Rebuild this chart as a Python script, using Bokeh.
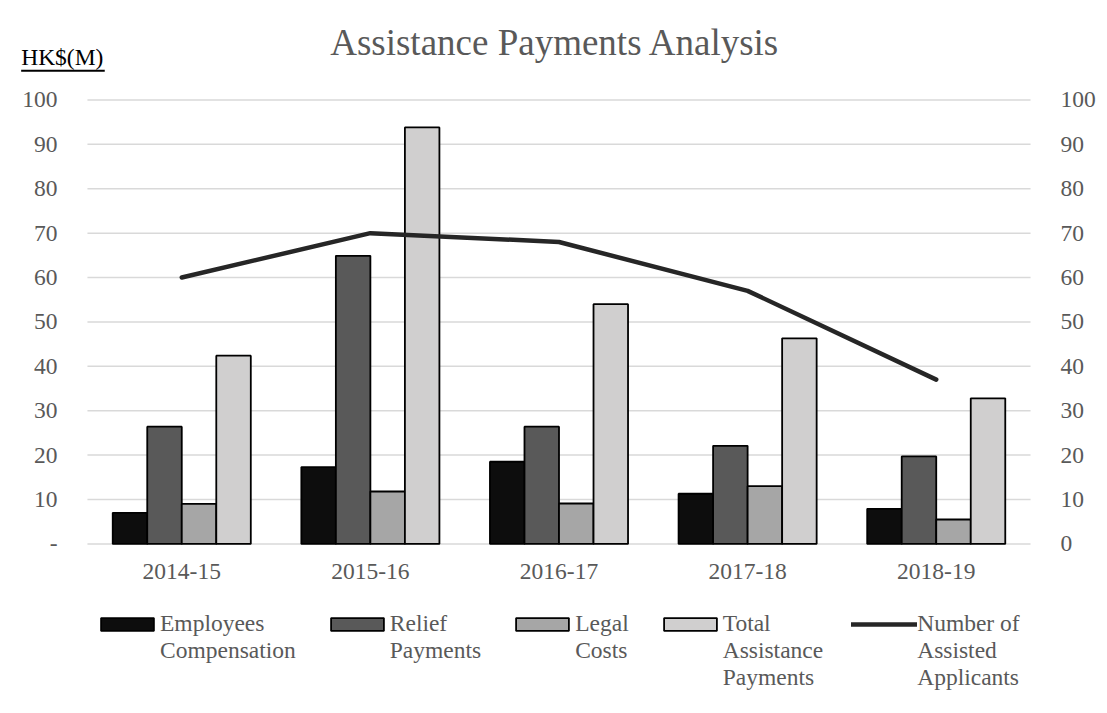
from bokeh.plotting import figure
from bokeh.models import (ColumnDataSource, FactorRange, Range1d, LinearAxis, Legend,
                          LegendItem, Label, Arrow, FixedTicker)
from bokeh.transform import dodge
from bokeh.embed import file_html
from bokeh.resources import INLINE

years = ["2014-15", "2015-16", "2016-17", "2017-18", "2018-19"]
employees_comp = [7.0, 17.3, 18.5, 11.3, 7.9]
relief_payments = [26.4, 64.9, 26.4, 22.1, 19.7]
legal_costs = [9.0, 11.8, 9.1, 13.0, 5.5]
total_assistance = [42.4, 93.8, 54.0, 46.3, 32.8]
assisted_applicants = [60, 70, 68, 57, 37]
y_ticks = [0, 10, 20, 30, 40, 50, 60, 70, 80, 90, 100]

FONT = "Liberation Serif"
GREY = "#595959"
FS = "23.5px"

src = ColumnDataSource(dict(years=years, ec=employees_comp, rp=relief_payments,
                            lc=legal_costs, ta=total_assistance, na=assisted_applicants))

# the frame covers the whole canvas so that titles and legend are not clipped
p = figure(x_range=FactorRange(*years, range_padding=0.408, range_padding_units="absolute"),
           y_range=Range1d(-38.2, 122.4),
           frame_width=1097, frame_height=713,
           min_border_left=10, min_border_right=0, min_border_top=0, min_border_bottom=0,
           output_backend="svg", toolbar_location=None, outline_line_color=None)
p.extra_y_ranges = {"right": Range1d(-38.2, 122.4)}

p.xgrid.visible = False
p.ygrid.visible = False
grid_src = ColumnDataSource(dict(y=y_ticks, x0=[0] * len(y_ticks), x1=[len(years)] * len(y_ticks)))
p.segment(x0="x0", x1="x1", y0="y", y1="y", source=grid_src, line_color="#d9d9d9",
          line_width=1.5, level="underlay")

bw = 0.183
specs = [("ec", -1.5, "#0d0d0d"), ("rp", -0.5, "#595959"), ("lc", 0.5, "#a6a6a6"), ("ta", 1.5, "#d0cfcf")]
rends = []
for col, k, color in specs:
    r = p.vbar(x=dodge("years", k * bw, range=p.x_range), top=col, width=bw, source=src,
               fill_color=color, line_color="#000000", line_width=1.8)
    rends.append(r)

ln = p.line(x="years", y="na", source=src, y_range_name="right", line_color="#262626",
            line_width=4.5, line_cap="round", line_join="round")

# axes
la = p.yaxis[0]
la.ticker = FixedTicker(ticks=y_ticks)
la.major_label_overrides = {0: "-"}
la.fixed_location = 0
ra = LinearAxis(y_range_name="right", ticker=FixedTicker(ticks=y_ticks), fixed_location=len(years))
p.add_layout(ra, "right")
xa = p.xaxis[0]
xa.fixed_location = 0
for ax in [la, ra, xa]:
    ax.axis_line_color = None
    ax.major_tick_line_color = None
    ax.minor_tick_line_color = None
    ax.major_label_text_font = FONT
    ax.major_label_text_font_size = FS
    ax.major_label_text_color = GREY
la.major_label_standoff = 24
ra.major_label_standoff = 24
xa.major_label_standoff = 14

# title & unit label
p.add_layout(Label(x=2.48, y=112.9, text="Assistance Payments Analysis", text_align="center",
                   text_baseline="alphabetic", text_font=FONT, text_font_size="37px",
                   text_color=GREY))
p.add_layout(Label(x=-0.3515, y=109.7, text="HK$(M)", text_align="left", text_baseline="alphabetic",
                   text_font=FONT, text_font_size=FS, text_color="#000000"))
p.add_layout(Arrow(end=None, x_start=-0.3515, y_start=106.6, x_end=0.0917, y_end=106.6,
                   line_color="#000000", line_width=2))

# leading blank lines keep the first text line level with the legend swatch
legend = Legend(items=[
    LegendItem(label="\nEmployees\nCompensation", renderers=[rends[0]]),
    LegendItem(label="\nRelief\nPayments", renderers=[rends[1]]),
    LegendItem(label="\nLegal\nCosts", renderers=[rends[2]]),
    LegendItem(label="\n\nTotal\nAssistance\nPayments", renderers=[rends[3]]),
    LegendItem(label="\n\nNumber of\nAssisted\nApplicants", renderers=[ln]),
], orientation="horizontal", location=(84, 22), border_line_color=None,
    background_fill_alpha=0,
    label_text_font=FONT, label_text_font_size=FS, label_text_color=GREY,
    label_text_line_height=1.15,
    glyph_width=66, glyph_height=16, label_standoff=0, spacing=28, padding=0, margin=0)
p.add_layout(legend, "center")

open("out.html", "w").write(file_html(p, INLINE))
